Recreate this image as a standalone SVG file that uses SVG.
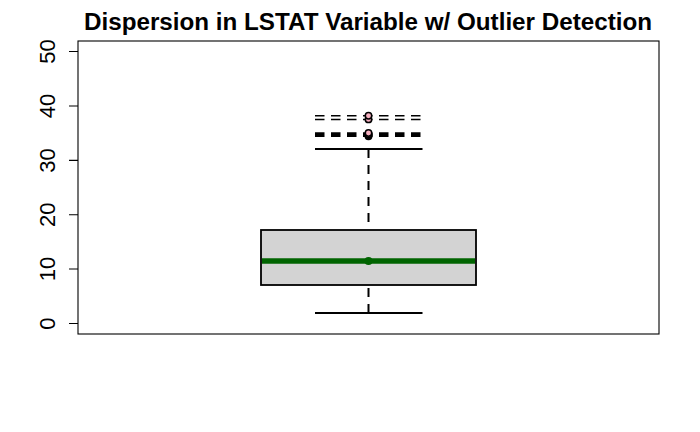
<svg xmlns="http://www.w3.org/2000/svg" width="700" height="432" viewBox="0 0 700 432">
<style>
.t{font-family:"Liberation Sans",Arial,sans-serif;fill:#000}
.tick{font-size:22px;text-anchor:middle}
.ax{stroke:#000;stroke-width:1.1;fill:none}
.dash{stroke:#000;stroke-width:2;stroke-dasharray:9 7;fill:none}
.odash{stroke:#000;stroke-width:1.5;stroke-dasharray:9.5 6.5;fill:none}
.out{fill:#F7B0C0;stroke:#000;stroke-width:1.5}
</style>
<rect width="700" height="432" fill="#fff"/>
<text class="t" x="368" y="30" font-size="23.5" font-weight="bold" text-anchor="middle" textLength="568" lengthAdjust="spacingAndGlyphs">Dispersion in LSTAT Variable w/ Outlier Detection</text>
<g id="frame">
<rect class="ax" x="78" y="41" width="581" height="293"/>
</g>
<g id="yaxis">
<path class="ax" d="M69 323.5H78M69 269H78M69 214.8H78M69 160.4H78M69 106H78M69 51.5H78"/>
<text class="t tick" transform="translate(55,323.5) rotate(-90)">0</text>
<text class="t tick" transform="translate(55,269) rotate(-90)">10</text>
<text class="t tick" transform="translate(55,214.8) rotate(-90)">20</text>
<text class="t tick" transform="translate(55,160.4) rotate(-90)">30</text>
<text class="t tick" transform="translate(55,106) rotate(-90)">40</text>
<text class="t tick" transform="translate(55,51.5) rotate(-90)">50</text>
</g>
<g id="connectors">
<path class="dash" d="M368.5 149V229"/>
<path class="dash" d="M368.5 313V286"/>
<path class="odash" d="M315 115.8H422.5M315 119.4H422.5M315 133H422.5M315 134.6H422.5M315 135H422.5M315 136.2H422.5"/>
</g>
<g id="box">
<path d="M315 149H422.5M315 313H422.5" stroke="#000" stroke-width="2" fill="none"/>
<rect x="261" y="230" width="215" height="55" fill="#D3D3D3" stroke="#000" stroke-width="1.8"/>
<path d="M262 261H475" stroke="#006400" stroke-width="5.5"/>
<circle cx="368.5" cy="261" r="4" fill="#006400"/>
</g>
<g id="outliers">
<circle class="out" cx="368.5" cy="136.2" r="3.2"/>
<circle class="out" cx="368.5" cy="135" r="3.2"/>
<circle class="out" cx="368.5" cy="134.6" r="3.2"/>
<circle class="out" cx="368.5" cy="133" r="3.2"/>
<circle class="out" cx="368.5" cy="119.4" r="3.2"/>
<circle class="out" cx="368.5" cy="115.8" r="3.2"/>
</g>
</svg>
